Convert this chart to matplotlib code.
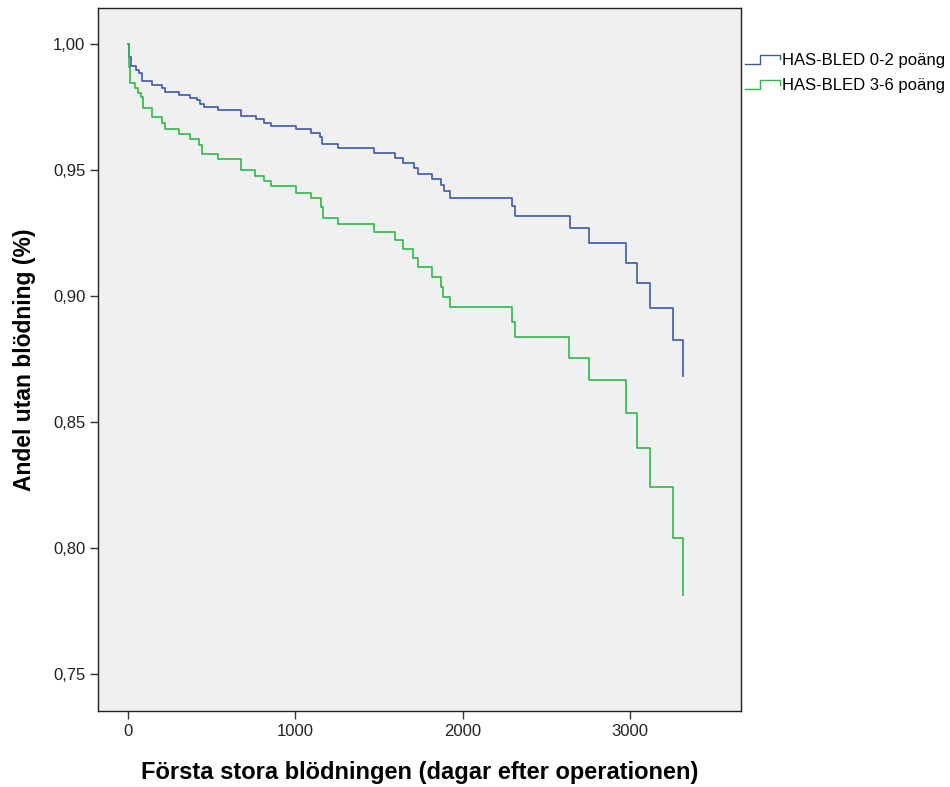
import matplotlib
matplotlib.use("Agg")
import matplotlib.pyplot as plt
from matplotlib.legend_handler import HandlerBase
from matplotlib.lines import Line2D

plt.rcParams['font.family'] = ['Liberation Sans', 'DejaVu Sans']

# Kaplan-Meier step data (event time in days, survival after event)
low_days = [0, 5, 15, 48, 62, 82, 143, 199, 217, 303, 369, 410, 430, 450, 538, 675, 765, 811,
            851, 1002, 1092, 1147, 1161, 1253, 1468, 1594, 1645, 1709, 1735, 1815, 1869, 1890,
            1924, 2295, 2317, 2642, 2759, 2980, 3044, 3124, 3261, 3317]
low_surv = [1.000, 0.995, 0.9913, 0.9897, 0.9884, 0.9854, 0.9837, 0.9824, 0.9810, 0.9798,
            0.9784, 0.9778, 0.9762, 0.9749, 0.9738, 0.9714, 0.9701, 0.9688, 0.9675, 0.9662,
            0.9648, 0.9632, 0.9602, 0.9586, 0.9569, 0.9549, 0.9529, 0.9507, 0.9484, 0.9463,
            0.9440, 0.9417, 0.9388, 0.9357, 0.9319, 0.9268, 0.9212, 0.9132, 0.9050, 0.8954,
            0.8825, 0.8683]

high_days = [0, 5, 12, 42, 56, 76, 86, 143, 203, 217, 303, 369, 424, 440, 534, 675, 759, 811,
             851, 1002, 1092, 1153, 1167, 1257, 1468, 1594, 1643, 1703, 1733, 1815, 1873, 1883,
             1924, 2295, 2317, 2639, 2759, 2978, 3044, 3124, 3261, 3317]
high_surv = [1.000, 0.991, 0.9844, 0.9824, 0.9804, 0.9791, 0.9745, 0.9709, 0.9685, 0.9663,
             0.9642, 0.9623, 0.9599, 0.9563, 0.9542, 0.9500, 0.9477, 0.9458, 0.9437, 0.9410,
             0.9388, 0.9354, 0.9308, 0.9286, 0.9255, 0.9222, 0.9187, 0.9152, 0.9114, 0.9074,
             0.9037, 0.8997, 0.8955, 0.8896, 0.8839, 0.8755, 0.8667, 0.8534, 0.8398, 0.8243,
             0.8041, 0.7813]

series_labels = ["HAS-BLED 0-2 poäng", "HAS-BLED 3-6 poäng"]
x_ticks = [0, 1000, 2000, 3000]
y_ticks = [0.75, 0.80, 0.85, 0.90, 0.95, 1.00]
y_ticklabels = ["0,75", "0,80", "0,85", "0,90", "0,95", "1,00"]

BLUE = "#3E58AC"
GREEN = "#2EB848"


class StepHandler(HandlerBase):
    def create_artists(self, legend, orig_handle, xdescent, ydescent, width, height, fontsize, trans):
        x0, w = -xdescent, width
        y0, h = -ydescent, height
        lo = y0 + 0.1 * h
        hi = y0 + 0.9 * h
        mid = y0 + 0.5 * h
        xs = [x0, x0 + 0.42 * w, x0 + 0.42 * w, x0 + w, x0 + w]
        ys = [lo, lo, hi, hi, mid]
        ln = Line2D(xs, ys, color=orig_handle.get_color(), lw=1.0, transform=trans)
        return [ln]


fig = plt.figure(figsize=(9.5, 7.87), dpi=100)
ax = fig.add_axes([98 / 950, 1 - 711 / 787, (741 - 98) / 950, (711 - 8) / 787])
ax.set_facecolor("#F0F0F0")

l1, = ax.step(low_days, low_surv, where="post", color=BLUE, lw=1.2, label=series_labels[0])
l2, = ax.step(high_days, high_surv, where="post", color=GREEN, lw=1.2, label=series_labels[1])

ax.set_xlim(-182, 3667)
ax.set_ylim(0.7353, 1.0143)
ax.set_xticks(x_ticks)
ax.set_xticklabels([str(t) for t in x_ticks])
ax.set_yticks(y_ticks)
ax.set_yticklabels(y_ticklabels)
ax.tick_params(axis="both", direction="out", length=6, width=1, labelsize=12,
               labelcolor="#222222", color="#333333", pad=3)
ax.tick_params(axis="x", pad=3)
for s in ax.spines.values():
    s.set_color("#222222")
    s.set_linewidth(1.0)

ax.set_xlabel("Första stora blödningen (dagar efter operationen)", fontsize=17,
              fontweight="bold", labelpad=16)
ax.set_ylabel("Andel utan blödning (%)", fontsize=16.5, fontweight="bold", labelpad=12)

fig.legend(handles=[l1, l2], labels=series_labels, loc="upper left",
           bbox_to_anchor=(745 / 950, 1 - 53 / 787), frameon=False, fontsize=12,
           handlelength=2.1, handletextpad=0.12, labelspacing=0.62, borderaxespad=0,
           borderpad=0, handler_map={Line2D: StepHandler()})

fig.savefig("out.png", dpi=100, facecolor="white")
